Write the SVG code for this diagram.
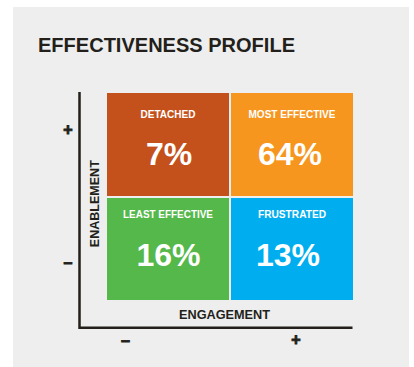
<svg xmlns="http://www.w3.org/2000/svg" width="414" height="367" viewBox="0 0 414 367">
<style>
.t{font-family:"Liberation Sans",Arial,sans-serif;font-weight:bold}
.dark{fill:#231f1a}
.lbl{fill:#ffffff;font-size:10px;text-anchor:middle}
.pct{fill:#ffffff;font-size:32px;text-anchor:middle}
.axis{stroke:#231f1a;stroke-width:2.5;fill:none}
.sign{font-size:16px;text-anchor:middle;stroke:#231f1a;stroke-width:0.9}
</style>
<rect width="414" height="367" fill="#ffffff"/>
<rect x="13" y="7" width="396" height="360" fill="#eeeeee"/>
<text class="t dark" x="38" y="52" font-size="21" textLength="257" lengthAdjust="spacingAndGlyphs">EFFECTIVENESS PROFILE</text>
<g id="connectors">
<polyline class="axis" points="79.5,92 79.5,327.8 352.5,327.8"/>
</g>
<g id="detached">
<rect x="107" y="93" width="122" height="103" fill="#c4501c"/>
<text class="t lbl" x="168" y="117.7" textLength="55" lengthAdjust="spacingAndGlyphs">DETACHED</text>
<text class="t pct" x="169" y="165">7%</text>
</g>
<g id="most-effective">
<rect x="231" y="93" width="122" height="103" fill="#f7961e"/>
<text class="t lbl" x="292" y="117.7" textLength="87" lengthAdjust="spacingAndGlyphs">MOST EFFECTIVE</text>
<text class="t pct" x="290" y="165">64%</text>
</g>
<g id="least-effective">
<rect x="107" y="198" width="122" height="102" fill="#55b84b"/>
<text class="t lbl" x="168" y="218.3" textLength="90" lengthAdjust="spacingAndGlyphs">LEAST EFFECTIVE</text>
<text class="t pct" x="168.5" y="266">16%</text>
</g>
<g id="frustrated">
<rect x="231" y="198" width="122" height="102" fill="#00aeef"/>
<text class="t lbl" x="292" y="218.3" textLength="68" lengthAdjust="spacingAndGlyphs">FRUSTRATED</text>
<text class="t pct" x="288" y="266">13%</text>
</g>
<g id="axis-labels">
<text class="t dark" x="224.5" y="319.3" font-size="13.5" text-anchor="middle" textLength="91" lengthAdjust="spacingAndGlyphs">ENGAGEMENT</text>
<text class="t dark" transform="translate(99.3,203.7) rotate(-90)" x="0" y="0" font-size="13.5" text-anchor="middle" textLength="87" lengthAdjust="spacingAndGlyphs">ENABLEMENT</text>
<text class="t dark sign" x="68" y="135.4">+</text>
<text class="t dark sign" x="68" y="268">–</text>
<text class="t dark sign" x="125.5" y="346">–</text>
<text class="t dark sign" x="296" y="344.6">+</text>
</g>
</svg>
